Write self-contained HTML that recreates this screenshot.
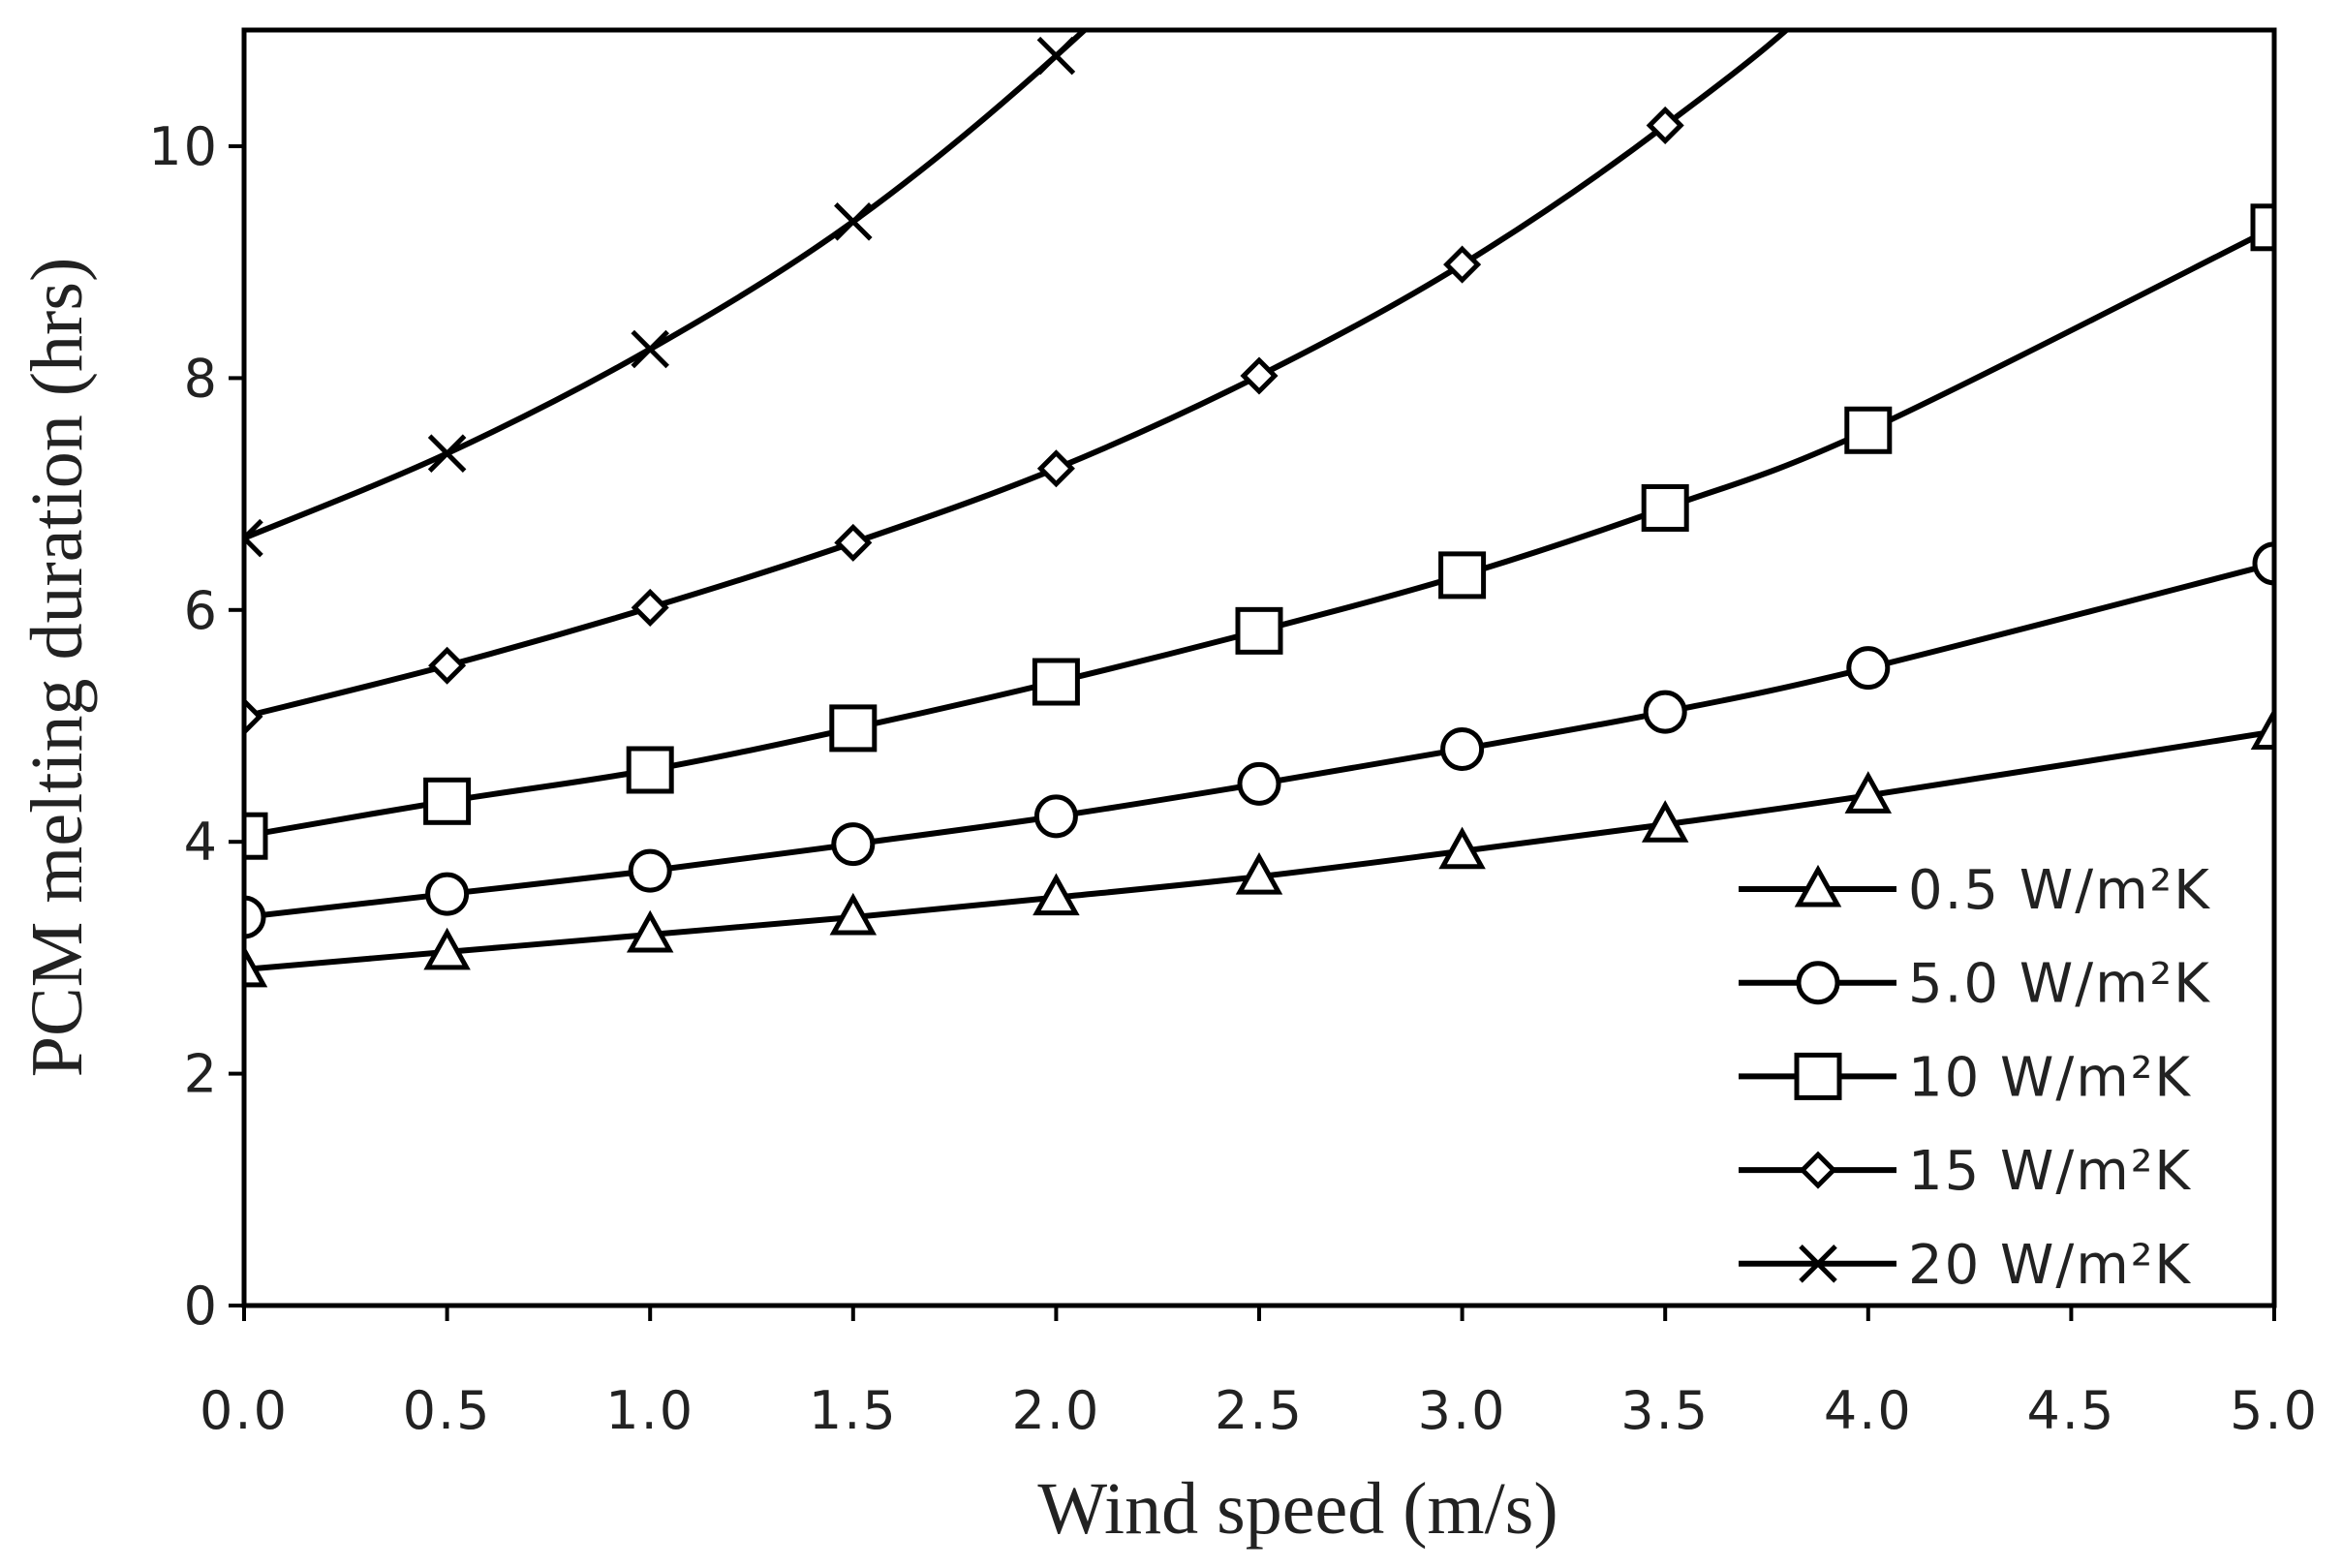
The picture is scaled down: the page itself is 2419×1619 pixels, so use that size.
<!DOCTYPE html>
<html><head><meta charset="utf-8"><style>
html,body{margin:0;padding:0;background:#fff;}
svg{display:block}
</style></head><body>
<svg id="s" width="2419" height="1619" xmlns="http://www.w3.org/2000/svg">
<defs><clipPath id="c"><rect x="252" y="31" width="2096" height="1317"/></clipPath></defs>
<g id="plot"></g>
<rect x="252" y="31" width="2096" height="1317" fill="none" stroke="#000" stroke-width="5"/>
<g id="ax" font-family="'DejaVu Sans', 'Liberation Sans', sans-serif" font-size="54" fill="#222" letter-spacing="2"></g>
<text x="1340" y="1583" text-anchor="middle" font-family="'Liberation Serif', serif" font-size="76" fill="#222">Wind speed (m/s)</text>
<text transform="translate(84,689) rotate(-90)" text-anchor="middle" font-family="'Liberation Serif', serif" font-size="76" fill="#222">PCM melting duration (hrs)</text>
</svg>
<script>
const NS="http://www.w3.org/2000/svg";
const X=v=>252+v*419.2, Y=v=>1348-v*119.7;
const xs=[0,0.5,1,1.5,2,2.5,3,3.5,4,5];
const data={
tri:[2.9,3.05,3.2,3.35,3.52,3.7,3.92,4.15,4.4,4.95],
cir:[3.35,3.55,3.75,3.98,4.22,4.5,4.8,5.12,5.5,6.4],
sq:[4.05,4.35,4.62,4.98,5.38,5.82,6.3,6.88,7.55,9.3],
dia:[5.08,5.52,6.02,6.58,7.22,8.02,8.98,10.18,11.65,15.2],
x:[6.62,7.35,8.25,9.35,10.78,12.5,14.6,17,19.8,27]};
function el(t,a,p){const e=document.createElementNS(NS,t);for(const k in a)e.setAttribute(k,a[k]);(p||document.getElementById('plot')).appendChild(e);return e;}
function marker(type,cx,cy,p){
 const st={fill:type=='x'?'none':'#fff',stroke:'#000','stroke-width':5};
 if(type=='tri'){const s=20;el('polygon',Object.assign({points:`${cx},${cy-s} ${cx-s},${cy+s*0.8} ${cx+s},${cy+s*0.8}`},st),p);}
 if(type=='cir')el('circle',Object.assign({cx,cy,r:20},st),p);
 if(type=='sq')el('rect',Object.assign({x:cx-22,y:cy-22,width:44,height:44},st),p);
 if(type=='dia'){const s=16;el('polygon',Object.assign({points:`${cx},${cy-s} ${cx+s},${cy} ${cx},${cy+s} ${cx-s},${cy}`},st),p);}
 if(type=='x'){const s=18;el('path',Object.assign({d:`M${cx-s},${cy-s}L${cx+s},${cy+s}M${cx-s},${cy+s}L${cx+s},${cy-s}`},st),p);}
}
const g=el('g',{'clip-path':'url(#c)'});
for(const k in data){
 const P=xs.map((x,i)=>[X(x),Y(data[k][i])]);
 let d=`M${P[0][0]},${P[0][1]}`;
 for(let i=0;i<P.length-1;i++){
  const p0=P[i-1]||P[i],p1=P[i],p2=P[i+1],p3=P[i+2]||P[i+1];
  d+=`C${p1[0]+(p2[0]-p0[0])/6},${p1[1]+(p2[1]-p0[1])/6} ${p2[0]-(p3[0]-p1[0])/6},${p2[1]-(p3[1]-p1[1])/6} ${p2[0]},${p2[1]}`;
 }
 el('path',{d,fill:'none',stroke:'#000','stroke-width':6},g);
 P.forEach(p=>{if(p[1]>20)marker(k,p[0],p[1],g);});
}
const ax=document.getElementById('ax');
for(let v=0;v<=10;v+=2){el('line',{x1:236,x2:252,y1:Y(v),y2:Y(v),stroke:'#000','stroke-width':4});const t=el('text',{x:226,y:Y(v)+19,'text-anchor':'end'},ax);t.textContent=v;}
for(let i=0;i<=10;i++){const v=i*0.5;el('line',{x1:X(v),x2:X(v),y1:1348,y2:1364,stroke:'#000','stroke-width':4});const t=el('text',{x:X(v),y:1475,'text-anchor':'middle'},ax);t.textContent=v.toFixed(1);}
const leg=[['tri','0.5 W/m²K'],['cir','5.0 W/m²K'],['sq','10 W/m²K'],['dia','15 W/m²K'],['x','20 W/m²K']];
leg.forEach((l,i)=>{const y=918+i*96.7;el('line',{x1:1795,x2:1958,y1:y,y2:y,stroke:'#000','stroke-width':6});marker(l[0],1877,y);const t=el('text',{x:1970,y:y+20,'font-size':56},ax);t.textContent=l[1];});
</script>
</body></html>
